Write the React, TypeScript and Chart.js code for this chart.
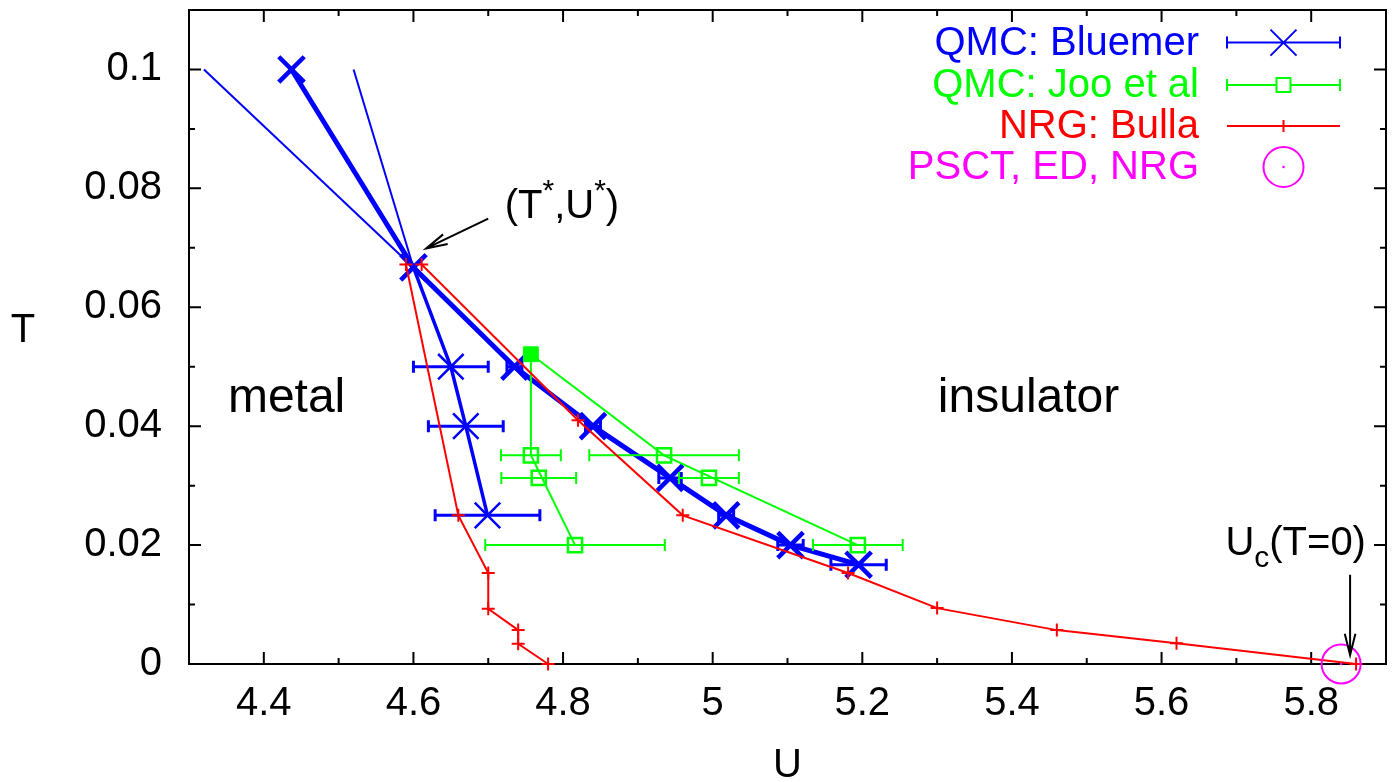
import React, { useEffect, useRef } from 'react';
import { Chart, registerables } from 'chart.js';

Chart.register(...registerables);

const FONT = '"Liberation Sans", Arial, Helvetica, sans-serif';
const BLUE = '#0000ff';
const GREEN = '#00ff00';
const RED = '#ff0000';
const MAGENTA = '#ff00ff';

// axis ranges
const U_MIN = 4.3;
const U_MAX = 5.9;
const U_STEP = 0.1;
const T_MIN = 0;
const T_MAX = 0.11;
const T_STEP = 0.01;

// QMC: Bluemer — main (insulating) transition line
const bluemerU = [4.437, 4.6, 4.735, 4.84, 4.943, 5.018, 5.104, 5.195];
const bluemerT = [0.1, 0.0667, 0.05, 0.04, 0.0313, 0.025, 0.02, 0.0167];
const bluemerErr = [0, 0, 0.01, 0.01, 0.015, 0.01, 0.017, 0.037];
// QMC: Bluemer — metallic branch
const bluemerMetalU = [4.6, 4.65, 4.67, 4.699];
const bluemerMetalT = [0.0667, 0.05, 0.04, 0.025];
const bluemerMetalErr = [0, 0.05, 0.05, 0.07];
const bluemerMetalRadius = [0, 18, 18, 18];
// QMC: Bluemer — extrapolated lines above the critical point
const bluemerLineAU = [4.32, 4.6];
const bluemerLineAT = [0.1, 0.0667];
const bluemerLineBU = [4.52, 4.6];
const bluemerLineBT = [0.1, 0.0667];

// QMC: Joo et al
const jooU = [4.757, 4.7675, 4.816, 4.935, 4.995, 5.194];
const jooT = [0.0351, 0.0313, 0.02, 0.0351, 0.0313, 0.02];
const jooErr = [0.04, 0.05, 0.12, 0.1, 0.04, 0.06];
const jooCritU = [4.757];
const jooCritT = [0.0521];
const jooMetalU = [4.757, 4.757, 4.816];
const jooMetalT = [0.0521, 0.0351, 0.02];
const jooInsU = [4.757, 4.935, 5.194];
const jooInsT = [0.0521, 0.0351, 0.02];

// NRG: Bulla
const nrgMetalU = [4.59, 4.66, 4.7, 4.7, 4.74, 4.74, 4.78];
const nrgMetalT = [0.0672, 0.025, 0.0153, 0.0093, 0.0057, 0.0034, 0];
const nrgInsU = [4.611, 4.82, 4.96, 5.181, 5.3, 5.46, 5.62, 5.86];
const nrgInsT = [0.0672, 0.041, 0.025, 0.0153, 0.0094, 0.0057, 0.0035, 0];

// PSCT, ED, NRG
const psctU = [5.84];
const psctT = [0];

// text
const xTitle = 'U';
const yTitle = 'T';
const regionLabels = ['metal', 'insulator'];
const regionLabelU = [4.352, 5.301];
const regionLabelT = [0.0424, 0.0424];
const legendLabels = ['QMC: Bluemer', 'QMC: Joo et al', 'NRG: Bulla', 'PSCT, ED, NRG'];
const legendColors = [BLUE, GREEN, RED, MAGENTA];
// annotation: critical point arrow
const critArrowFrom = [4.70, 0.0749];
const critArrowTo = [4.617, 0.0699];
const critLabelPos = [4.722, 0.075];
// annotation: Uc(T=0) arrow
const ucArrowFrom = [5.852, 0.015];
const ucArrowTo = [5.852, 0.0015];
const ucLabelPos = [5.6853, 0.0183];

const pts = (us: number[], ts: number[]) => us.map((u, i) => ({ x: u, y: ts[i] }));

function drawArrow(ctx: CanvasRenderingContext2D, x1: number, y1: number, x2: number, y2: number) {
  const len = 22;
  const ang = (14 * Math.PI) / 180;
  const a = Math.atan2(y1 - y2, x1 - x2);
  ctx.beginPath();
  ctx.moveTo(x1, y1);
  ctx.lineTo(x2, y2);
  ctx.moveTo(x2 + len * Math.cos(a + ang), y2 + len * Math.sin(a + ang));
  ctx.lineTo(x2, y2);
  ctx.lineTo(x2 + len * Math.cos(a - ang), y2 + len * Math.sin(a - ang));
  ctx.stroke();
}

function drawRich(ctx: CanvasRenderingContext2D, x: number, y: number, parts: [string, string][]) {
  let cx = x;
  ctx.textAlign = 'left';
  ctx.textBaseline = 'alphabetic';
  for (const [txt, kind] of parts) {
    if (kind === 'n') {
      ctx.font = `40px ${FONT}`;
      ctx.fillText(txt, cx, y);
    } else if (kind === 'sup') {
      ctx.font = `30px ${FONT}`;
      ctx.fillText(txt, cx, y - 18);
    } else {
      ctx.font = `30px ${FONT}`;
      ctx.fillText(txt, cx, y + 12);
    }
    cx += ctx.measureText(txt).width;
  }
}

const errorBarPlugin = {
  id: 'errorBars',
  afterDatasetDraw(chart: any, args: any) {
    const ds = chart.data.datasets[args.index];
    if (!ds.errX) return;
    const ctx = chart.ctx as CanvasRenderingContext2D;
    const xs = chart.scales.x;
    const ys = chart.scales.y;
    const cap = 6;
    ctx.save();
    ctx.strokeStyle = ds.borderColor;
    ctx.lineWidth = ds.errWidth;
    ds.data.forEach((p: any, i: number) => {
      const e = ds.errX[i];
      if (!e) return;
      const y = ys.getPixelForValue(p.y);
      const x1 = xs.getPixelForValue(p.x - e);
      const x2 = xs.getPixelForValue(p.x + e);
      ctx.beginPath();
      ctx.moveTo(x1, y);
      ctx.lineTo(x2, y);
      ctx.moveTo(x1, y - cap);
      ctx.lineTo(x1, y + cap);
      ctx.moveTo(x2, y - cap);
      ctx.lineTo(x2, y + cap);
      ctx.stroke();
    });
    ctx.restore();
  },
};

const framePlugin = {
  id: 'frame',
  beforeDatasetsDraw(chart: any) {
    const ctx = chart.ctx as CanvasRenderingContext2D;
    const { left, right, top, bottom } = chart.chartArea;
    const xs = chart.scales.x;
    const ys = chart.scales.y;
    ctx.save();
    ctx.strokeStyle = '#000';
    ctx.lineWidth = 2;
    ctx.beginPath();
    xs.ticks.forEach((t: any) => {
      const px = xs.getPixelForValue(t.value);
      if (px <= left + 1 || px >= right - 1) return;
      const major = Math.round(t.value * 10) % 2 === 0;
      const len = major ? 12 : 6;
      ctx.moveTo(px, bottom);
      ctx.lineTo(px, bottom - len);
      ctx.moveTo(px, top);
      ctx.lineTo(px, top + len);
    });
    ys.ticks.forEach((t: any) => {
      const py = ys.getPixelForValue(t.value);
      if (py <= top + 1 || py >= bottom - 1) return;
      const major = Math.round(t.value * 100) % 2 === 0;
      const len = major ? 12 : 6;
      ctx.moveTo(left, py);
      ctx.lineTo(left + len, py);
      ctx.moveTo(right, py);
      ctx.lineTo(right - len, py);
    });
    ctx.stroke();
    ctx.strokeRect(left, top, right - left, bottom - top);
    ctx.restore();
  },
  afterDatasetsDraw(chart: any) {
    const ctx = chart.ctx as CanvasRenderingContext2D;
    const { left, right } = chart.chartArea;
    const xs = chart.scales.x;
    const ys = chart.scales.y;
    ctx.save();
    ctx.fillStyle = '#000';
    // axis titles
    ctx.font = `40px ${FONT}`;
    ctx.textAlign = 'center';
    ctx.textBaseline = 'middle';
    ctx.fillText(xTitle, (left + right) / 2, 766);
    ctx.fillText(yTitle, 23, 331);
    // region labels
    ctx.font = `48px ${FONT}`;
    ctx.textAlign = 'left';
    ctx.textBaseline = 'alphabetic';
    regionLabels.forEach((s, i) => {
      ctx.fillText(s, xs.getPixelForValue(regionLabelU[i]), ys.getPixelForValue(regionLabelT[i]));
    });
    // annotations
    ctx.strokeStyle = '#000';
    ctx.lineWidth = 2;
    drawArrow(
      ctx,
      xs.getPixelForValue(critArrowFrom[0]),
      ys.getPixelForValue(critArrowFrom[1]),
      xs.getPixelForValue(critArrowTo[0]),
      ys.getPixelForValue(critArrowTo[1])
    );
    drawArrow(
      ctx,
      xs.getPixelForValue(ucArrowFrom[0]),
      ys.getPixelForValue(ucArrowFrom[1]),
      xs.getPixelForValue(ucArrowTo[0]),
      ys.getPixelForValue(ucArrowTo[1])
    );
    drawRich(ctx, xs.getPixelForValue(critLabelPos[0]), ys.getPixelForValue(critLabelPos[1]), [
      ['(T', 'n'],
      ['*', 'sup'],
      [',U', 'n'],
      ['*', 'sup'],
      [')', 'n'],
    ]);
    drawRich(ctx, xs.getPixelForValue(ucLabelPos[0]), ys.getPixelForValue(ucLabelPos[1]), [
      ['U', 'n'],
      ['c', 'sub'],
      ['(T=0)', 'n'],
    ]);
    // legend
    const rowY = [42.6, 85, 126, 167];
    const textRight = 1199;
    const sx1 = 1227;
    const sx2 = 1340;
    const mx = 1283.5;
    ctx.font = `40px ${FONT}`;
    ctx.textAlign = 'right';
    ctx.textBaseline = 'middle';
    legendLabels.forEach((s, i) => {
      ctx.fillStyle = legendColors[i];
      ctx.fillText(s, textRight, rowY[i] + 1);
    });
    ctx.lineWidth = 2;
    // row 0: blue line with error caps and X
    let y = rowY[0];
    ctx.strokeStyle = BLUE;
    ctx.beginPath();
    ctx.moveTo(sx1, y); ctx.lineTo(sx2, y);
    ctx.moveTo(sx1, y - 6); ctx.lineTo(sx1, y + 6);
    ctx.moveTo(sx2, y - 6); ctx.lineTo(sx2, y + 6);
    ctx.moveTo(mx - 13, y - 13); ctx.lineTo(mx + 13, y + 13);
    ctx.moveTo(mx + 13, y - 13); ctx.lineTo(mx - 13, y + 13);
    ctx.stroke();
    // row 1: green line with caps and square
    y = rowY[1];
    ctx.strokeStyle = GREEN;
    ctx.beginPath();
    ctx.moveTo(sx1, y); ctx.lineTo(mx - 7, y);
    ctx.moveTo(mx + 7, y); ctx.lineTo(sx2, y);
    ctx.moveTo(sx1, y - 6); ctx.lineTo(sx1, y + 6);
    ctx.moveTo(sx2, y - 6); ctx.lineTo(sx2, y + 6);
    ctx.rect(mx - 7, y - 7, 14, 14);
    ctx.stroke();
    // row 2: red line with +
    y = rowY[2];
    ctx.strokeStyle = RED;
    ctx.beginPath();
    ctx.moveTo(sx1, y); ctx.lineTo(sx2, y);
    ctx.moveTo(mx, y - 6); ctx.lineTo(mx, y + 6);
    ctx.stroke();
    // row 3: magenta circle with dot
    y = rowY[3];
    ctx.strokeStyle = MAGENTA;
    ctx.fillStyle = MAGENTA;
    ctx.beginPath();
    ctx.arc(mx, y, 20, 0, Math.PI * 2);
    ctx.stroke();
    ctx.beginPath();
    ctx.arc(mx, y, 1.3, 0, Math.PI * 2);
    ctx.fill();
    ctx.restore();
  },
};

function zeroPad(s: any) {
  s.paddingTop = 0;
  s.paddingBottom = 0;
  s.paddingLeft = 0;
  s.paddingRight = 0;
}

function buildConfig(): any {
  const line = (data: any[], color: string, width: number, order: number, extra: any = {}) => ({
    data,
    showLine: true,
    borderColor: color,
    backgroundColor: color,
    borderWidth: width,
    pointRadius: 0,
    fill: false,
    tension: 0,
    clip: false,
    order,
    ...extra,
  });
  return {
    type: 'scatter',
    data: {
      datasets: [
        line(pts(bluemerLineAU, bluemerLineAT), BLUE, 2, 10),
        line(pts(bluemerLineBU, bluemerLineBT), BLUE, 2, 10),
        line(pts(bluemerMetalU, bluemerMetalT), BLUE, 3.5, 9, {
          pointRadius: bluemerMetalRadius,
          pointStyle: 'crossRot',
          pointBorderColor: BLUE,
          pointBorderWidth: 2.5,
          errX: bluemerMetalErr,
          errWidth: 3,
        }),
        line(pts(bluemerU, bluemerT), BLUE, 5, 8, {
          pointRadius: 18,
          pointStyle: 'crossRot',
          pointBorderColor: BLUE,
          pointBorderWidth: 4.5,
          errX: bluemerErr,
          errWidth: 3,
        }),
        line(pts(jooMetalU, jooMetalT), GREEN, 2, 7),
        line(pts(jooInsU, jooInsT), GREEN, 2, 7),
        line(pts(jooU, jooT), GREEN, 2, 6, {
          showLine: false,
          pointRadius: 10,
          pointStyle: 'rect',
          pointBorderColor: GREEN,
          pointBackgroundColor: 'rgba(0,0,0,0)',
          pointBorderWidth: 2.5,
          errX: jooErr,
          errWidth: 2,
        }),
        line(pts(jooCritU, jooCritT), GREEN, 2, 5, {
          showLine: false,
          pointRadius: 10.5,
          pointStyle: 'rect',
          pointBorderColor: GREEN,
          pointBackgroundColor: GREEN,
          pointBorderWidth: 1,
        }),
        line(pts(nrgMetalU, nrgMetalT), RED, 2, 3, {
          pointRadius: 6.5,
          pointStyle: 'cross',
          pointBorderColor: RED,
          pointBorderWidth: 2,
        }),
        line(pts(nrgInsU, nrgInsT), RED, 2, 3, {
          pointRadius: 6.5,
          pointStyle: 'cross',
          pointBorderColor: RED,
          pointBorderWidth: 2,
        }),
        line(pts(psctU, psctT), MAGENTA, 2, 1, {
          showLine: false,
          pointRadius: 19.5,
          pointStyle: 'circle',
          pointBorderColor: MAGENTA,
          pointBackgroundColor: 'rgba(0,0,0,0)',
          pointBorderWidth: 2,
        }),
        line(pts(psctU, psctT), MAGENTA, 1, 0, {
          showLine: false,
          pointRadius: 1.3,
          pointStyle: 'circle',
          pointBorderColor: MAGENTA,
          pointBackgroundColor: MAGENTA,
          pointBorderWidth: 0,
        }),
      ],
    },
    options: {
      responsive: false,
      animation: false,
      events: [],
      layout: { autoPadding: false, padding: { top: 10, right: 11, left: 0, bottom: 0 } },
      plugins: { legend: { display: false }, tooltip: { enabled: false } },
      scales: {
        x: {
          type: 'linear',
          position: 'bottom',
          min: U_MIN,
          max: U_MAX,
          afterFit: (s: any) => {
            s.height = 118;
            zeroPad(s);
          },
          grid: { display: false, drawTicks: false },
          border: { display: false },
          ticks: {
            stepSize: U_STEP,
            autoSkip: false,
            maxRotation: 0,
            minRotation: 0,
            padding: 16,
            color: '#000',
            font: { family: FONT, size: 40 },
            callback: (v: any) => {
              const k = Math.round(Number(v) * 10);
              return k % 2 === 0 ? String(k / 10) : '';
            },
          },
        },
        y: {
          type: 'linear',
          position: 'left',
          min: T_MIN,
          max: T_MAX,
          afterFit: (s: any) => {
            s.width = 189;
            zeroPad(s);
          },
          grid: { display: false, drawTicks: false },
          border: { display: false },
          ticks: {
            stepSize: T_STEP,
            autoSkip: false,
            padding: 27,
            color: '#000',
            font: { family: FONT, size: 40 },
            callback: (v: any) => {
              const k = Math.round(Number(v) * 100);
              return k % 2 === 0 ? String(k / 100) : '';
            },
          },
        },
      },
    },
    plugins: [framePlugin, errorBarPlugin],
  };
}

export default function App() {
  const ref = useRef<HTMLCanvasElement>(null);
  useEffect(() => {
    const chart = new Chart(ref.current as HTMLCanvasElement, buildConfig());
    return () => chart.destroy();
  }, []);
  return (
    <div style={{ position: 'fixed', left: 0, top: 0, width: 1397, height: 782, background: '#fff' }}>
      <canvas ref={ref} width={1397} height={782} style={{ display: 'block' }} />
    </div>
  );
}
